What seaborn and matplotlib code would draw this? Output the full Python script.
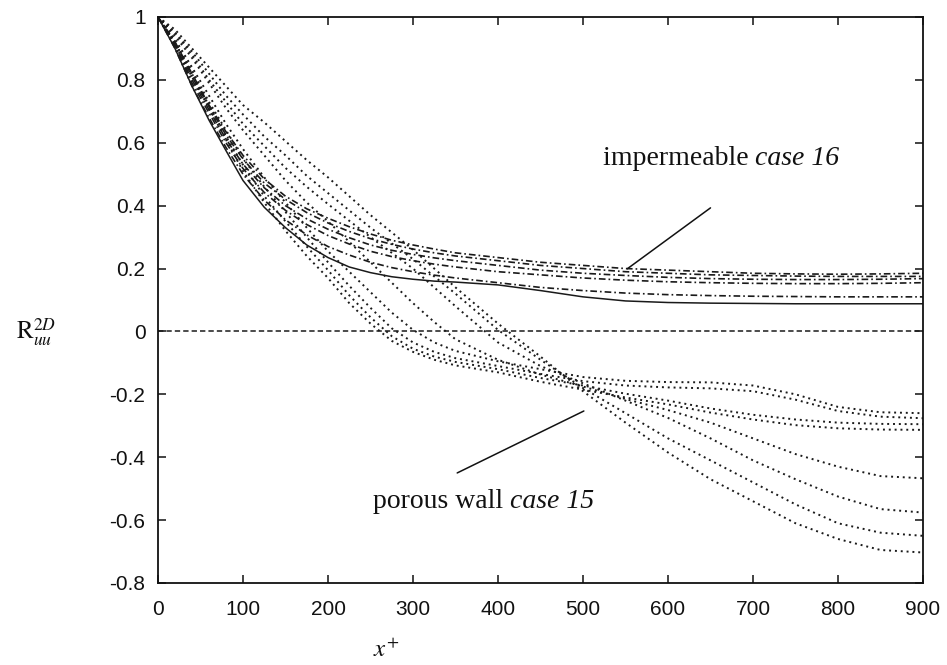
import matplotlib
matplotlib.use("Agg")
import matplotlib.pyplot as plt
import seaborn as sns
import pandas as pd
from matplotlib.ticker import FuncFormatter
from matplotlib.transforms import offset_copy

# ---------------- data ----------------
x_plus = [0, 20, 40, 60, 80, 100, 125, 150, 175, 200, 225, 250, 275, 300, 325, 350,
          400, 450, 500, 550, 600, 650, 700, 750, 800, 850, 900]

# impermeable wall, case 16 (dash-dot curves, last one solid)
imp_1 = [1, .92, .82, .72, .635, .56, .485, .43, .39, .36, .333, .31, .29, .275, .262, .25, .235, .22, .21, .20, .195, .19, .185, .183, .182, .183, .185]
imp_2 = [1, .92, .81, .715, .625, .548, .472, .42, .378, .345, .318, .295, .277, .262, .25, .24, .225, .21, .20, .19, .185, .18, .178, .176, .175, .175, .175]
imp_3 = [1, .91, .80, .705, .612, .532, .457, .40, .358, .325, .298, .275, .258, .245, .234, .225, .21, .195, .185, .178, .172, .168, .166, .165, .165, .166, .168]
imp_4 = [1, .91, .79, .695, .60, .518, .442, .385, .34, .305, .278, .255, .238, .225, .214, .205, .19, .18, .17, .163, .158, .155, .153, .152, .152, .153, .155]
imp_5 = [1, .90, .78, .68, .585, .50, .418, .355, .307, .27, .243, .22, .203, .19, .179, .17, .155, .14, .13, .122, .117, .114, .112, .111, .11, .11, .11]
imp_solid = [1, .90, .78, .672, .575, .48, .395, .33, .275, .235, .205, .187, .174, .166, .16, .157, .148, .13, .11, .097, .092, .09, .089, .088, .088, .088, .088]

# porous wall, case 15 (dotted curves)
por_u1 = [1, .93, .84, .75, .66, .58, .49, .41, .33, .255, .19, .125, .06, .005, -.035, -.062, -.095, -.12, -.145, -.157, -.161, -.162, -.172, -.2, -.24, -.257, -.26]
por_u2 = [1, .92, .83, .73, .64, .55, .46, .38, .30, .22, .145, .075, .01, -.035, -.065, -.085, -.11, -.135, -.158, -.172, -.178, -.181, -.19, -.217, -.253, -.271, -.276]
por_u3 = [1, .92, .82, .72, .62, .53, .43, .35, .27, .195, .115, .045, -.015, -.055, -.08, -.097, -.12, -.148, -.172, -.198, -.22, -.245, -.265, -.28, -.29, -.294, -.295]
por_u4 = [1, .91, .81, .71, .61, .51, .41, .32, .24, .17, .09, .025, -.03, -.065, -.09, -.108, -.13, -.16, -.185, -.21, -.232, -.258, -.28, -.298, -.308, -.312, -.313]
por_s1 = [1, .94, .87, .79, .71, .64, .56, .48, .41, .35, .285, .22, .155, .09, .03, -.025, -.09, -.137, -.175, -.215, -.25, -.29, -.34, -.39, -.43, -.46, -.467]
por_s2 = [1, .95, .88, .80, .73, .66, .59, .52, .46, .405, .352, .30, .25, .20, .14, .08, -.035, -.11, -.165, -.22, -.275, -.34, -.41, -.47, -.525, -.565, -.576]
por_s3 = [1, .95, .89, .82, .75, .69, .62, .56, .495, .44, .385, .33, .28, .23, .175, .12, .005, -.09, -.18, -.26, -.34, -.41, -.48, -.55, -.61, -.64, -.65]
por_s4 = [1, .96, .90, .84, .78, .72, .665, .605, .545, .49, .43, .37, .315, .26, .2, .14, .025, -.08, -.19, -.29, -.385, -.47, -.54, -.61, -.66, -.695, -.703]

zero_x = [0, 900]
zero_y = [0, 0]

y_ticks = [1, 0.8, 0.6, 0.4, 0.2, 0, -0.2, -0.4, -0.6, -0.8]
x_ticks = [0, 100, 200, 300, 400, 500, 600, 700, 800, 900]

imp_words = ("impermeable ", "case 16")
por_words = ("porous wall ", "case 15")
# annotation pointers: (text anchor, line start, line end) in data units
imp_text_xy = (523, 0.530)
imp_line = ((650, 0.393), (552, 0.199))
por_text_xy = (253, -0.562)
por_line = ((352, -0.450), (501, -0.253))

# ---------------- figure ----------------
sns.set_style("white")
plt.rcParams["font.family"] = ["Liberation Sans", "DejaVu Sans"]
plt.rcParams["mathtext.fontset"] = "stix"
plt.rcParams["axes.unicode_minus"] = False

fig = plt.figure(figsize=(9.47, 6.65), dpi=100)
ax = fig.add_axes([158 / 947, 1 - 583 / 665, 765 / 947, 566 / 665])

curves = [("imp_1", imp_1), ("imp_2", imp_2), ("imp_3", imp_3), ("imp_4", imp_4),
          ("imp_5", imp_5), ("imp_solid", imp_solid),
          ("por_u1", por_u1), ("por_u2", por_u2), ("por_u3", por_u3), ("por_u4", por_u4),
          ("por_s1", por_s1), ("por_s2", por_s2), ("por_s3", por_s3), ("por_s4", por_s4)]
rows = []
for name, ys in curves:
    for xv, yv in zip(x_plus, ys):
        rows.append({"x": xv, "R": yv, "curve": name})
df = pd.DataFrame(rows)

ink = "#1a1a1a"
dotted = (0, (1.0, 2.0))
dashdot = (0, (4.0, 1.8, 1.0, 1.8))

for name, sub in df.groupby("curve", sort=False):
    if name.startswith("por"):
        ls, lw = dotted, 1.4
    elif name == "imp_solid":
        ls, lw = "-", 1.1
    else:
        ls, lw = dashdot, 1.2
    sns.lineplot(data=sub, x="x", y="R", ax=ax, color=ink, linestyle=ls,
                 linewidth=lw, estimator=None, sort=False, legend=False)

sns.lineplot(x=zero_x, y=zero_y, ax=ax, color=ink, linestyle=(0, (3.5, 2.0)),
             linewidth=1.1, estimator=None, legend=False)

ax.set_xlim(0, 900)
ax.set_ylim(-0.8, 1)
ax.set_xticks(x_ticks)
ax.set_yticks(y_ticks)
fmt = FuncFormatter(lambda v, p: f"{v:g}")
ax.xaxis.set_major_formatter(fmt)
ax.yaxis.set_major_formatter(fmt)
ax.tick_params(direction="in", length=6, width=1.1, labelsize=15, colors="#111111",
               top=True, right=True, bottom=True, left=True)
ax.tick_params(axis="x", pad=12)
ax.tick_params(axis="y", pad=9)
for s in ax.spines.values():
    s.set_linewidth(1.3)
    s.set_color("#111111")
ax.set_xlabel("")
ax.set_ylabel("")

# annotations (roman words followed by italic case label)
renderer = fig.canvas.get_renderer()
serif = ["Liberation Serif", "DejaVu Serif"]
for words, txy, line in [(imp_words, imp_text_xy, imp_line), (por_words, por_text_xy, por_line)]:
    t1 = ax.text(*txy, words[0], fontsize=20, family=serif, ha="left", va="baseline",
                 color="#111111")
    w = t1.get_window_extent(renderer=renderer).width
    tr = offset_copy(ax.transData, fig=fig, x=w * 72 / fig.dpi, y=0, units="points")
    ax.text(*txy, words[1], fontsize=20, family=serif, style="italic", ha="left",
            va="baseline", color="#111111", transform=tr)
    ax.annotate("", xy=line[1], xytext=line[0],
                arrowprops=dict(arrowstyle="-", color="#111111", lw=1.1, shrinkA=0, shrinkB=0))

# axis labels placed as in reference
fig.text(36 / 947, 1 - 332 / 665, r"$\mathrm{R}_{uu}^{2D}$", fontsize=18,
         ha="center", va="center", color="#111111")
fig.text(386 / 947, 1 - 650 / 665, r"$x^{+}$", fontsize=18,
         ha="center", va="center", color="#111111")

fig.savefig("out.png", dpi=100)
